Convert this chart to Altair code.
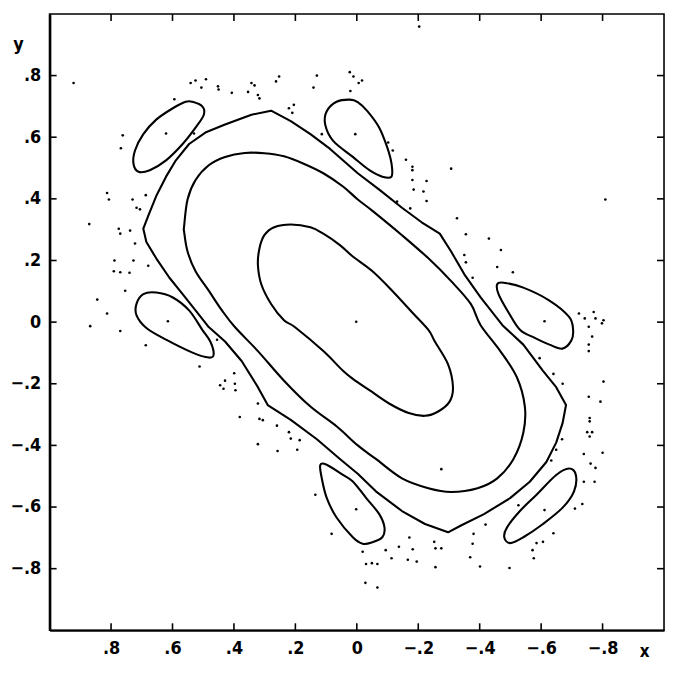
import altair as alt
import pandas as pd

# ---- closed orbits ----
C1_X = [0.322, 0.317, 0.301, 0.269, 0.215, 0.151, 0.109, 0.055, 0.013, -0.051, -0.115, -0.179, -0.233, -0.254,
        -0.297, -0.313, -0.302, -0.265, -0.222, -0.169, -0.105, -0.041, 0.013, 0.045, 0.109, 0.202, 0.237, 0.279, 0.311]
C1_Y = [0.186, 0.239, 0.282, 0.308, 0.317, 0.308, 0.287, 0.250, 0.213, 0.165, 0.102, 0.033, -0.025, -0.063,
        -0.137, -0.211, -0.258, -0.290, -0.304, -0.295, -0.264, -0.221, -0.184, -0.158, -0.094, -0.016, 0.006, 0.059, 0.123]

C2_X = [0.562, 0.551, 0.525, 0.482, 0.429, 0.365, 0.301, 0.237, 0.173, 0.109, 0.045, -0.003, -0.051, -0.147,
        -0.233, -0.307, -0.371, -0.403, -0.467, -0.521, -0.547, -0.542, -0.510, -0.457, -0.393, -0.307, -0.233,
        -0.147, -0.062, -0.003, 0.066, 0.151, 0.237, 0.322, 0.397, 0.439, 0.482, 0.525, 0.551, 0.562]
C2_Y = [0.313, 0.398, 0.461, 0.509, 0.536, 0.549, 0.548, 0.538, 0.514, 0.483, 0.440, 0.398, 0.361, 0.282,
        0.207, 0.133, 0.059, -0.010, -0.094, -0.179, -0.274, -0.359, -0.444, -0.507, -0.539, -0.551, -0.539,
        -0.507, -0.444, -0.400, -0.338, -0.274, -0.190, -0.094, -0.016, 0.038, 0.102, 0.165, 0.229, 0.292]

C3_X = [0.695, 0.679, 0.653, 0.621, 0.589, 0.546, 0.493, 0.429, 0.343, 0.279, 0.215, 0.151, 0.087, -0.003,
        -0.073, -0.147, -0.211, -0.270, -0.307, -0.350, -0.403, -0.474, -0.542, -0.606, -0.649, -0.681, -0.670,
        -0.649, -0.617, -0.563, -0.499, -0.414, -0.339, -0.297, -0.222, -0.147, -0.062, -0.003, 0.055, 0.130,
        0.215, 0.290, 0.322, 0.375, 0.429, 0.482, 0.525, 0.567, 0.610, 0.653, 0.685]
C3_Y = [0.303, 0.345, 0.409, 0.472, 0.525, 0.578, 0.615, 0.641, 0.673, 0.686, 0.652, 0.610, 0.562, 0.483,
        0.430, 0.371, 0.324, 0.287, 0.229, 0.155, 0.080, -0.010, -0.073, -0.158, -0.211, -0.269, -0.327,
        -0.391, -0.454, -0.518, -0.571, -0.623, -0.660, -0.682, -0.655, -0.613, -0.549, -0.492, -0.444, -0.380,
        -0.317, -0.269, -0.211, -0.126, -0.063, -0.016, 0.038, 0.091, 0.144, 0.207, 0.260]

# ---- six islands ----
I1_X = [0.535, 0.503, 0.498, 0.525, 0.567, 0.621, 0.674, 0.711, 0.727, 0.722, 0.695, 0.653, 0.599, 0.557]
I1_Y = [0.715, 0.700, 0.673, 0.631, 0.578, 0.525, 0.493, 0.488, 0.514, 0.557, 0.610, 0.657, 0.694, 0.715]
I2_X = [0.103, 0.098, 0.066, 0.023, -0.003, -0.035, -0.073, -0.099, -0.113, -0.113, -0.083, -0.041, 0.013, 0.077]
I2_Y = [0.641, 0.684, 0.715, 0.722, 0.714, 0.684, 0.631, 0.567, 0.514, 0.472, 0.472, 0.493, 0.536, 0.588]
I3_X = [0.717, 0.717, 0.695, 0.653, 0.599, 0.546, 0.503, 0.477, 0.466, 0.482, 0.535, 0.621, 0.685]
I3_Y = [0.022, 0.060, 0.091, 0.096, 0.080, 0.038, -0.025, -0.063, -0.105, -0.115, -0.099, -0.057, -0.019]
I4_X = [-0.457, -0.478, -0.542, -0.627, -0.691, -0.704, -0.698, -0.669, -0.627, -0.579, -0.531, -0.490, -0.461]
I4_Y = [0.123, 0.128, 0.112, 0.070, 0.017, -0.025, -0.060, -0.086, -0.073, -0.051, -0.025, 0.038, 0.092]
I5_X = [-0.691, -0.713, -0.707, -0.670, -0.606, -0.542, -0.499, -0.480, -0.489, -0.531, -0.585, -0.649]
I5_Y = [-0.475, -0.496, -0.549, -0.602, -0.655, -0.698, -0.717, -0.698, -0.666, -0.613, -0.560, -0.496]
I6_X = [0.119, 0.098, 0.045, 0.013, -0.030, -0.073, -0.090, -0.083, -0.051, -0.019, 0.013, 0.066, 0.098, 0.114]
I6_Y = [-0.464, -0.463, -0.496, -0.517, -0.570, -0.623, -0.666, -0.698, -0.714, -0.719, -0.698, -0.634, -0.570, -0.507]

# ---- scattered (chaotic) points ----
DOT_X = [0.922, 0.541, 0.525, 0.506, 0.491, 0.452, 0.450, 0.407, 0.343, 0.333, 0.354, 0.322, 0.317, 0.263, 0.253,
         0.141, 0.130, 0.221, 0.210, 0.205, 0.594, 0.621, 0.530, 0.114, 0.762, 0.768, 0.813, 0.807, 0.730, 0.717,
         0.706, 0.687, 0.871, 0.775, 0.770, 0.738, 0.722, 0.727, 0.789, 0.791, 0.770, 0.740, 0.679, 0.754, 0.845,
         0.813, 0.868, 0.770, 0.615, -0.203, 0.023, 0.011, -0.006, -0.017, 0.021, 0.005, -0.102, -0.117, -0.160,
         -0.181, -0.181, -0.181, -0.227, -0.307, -0.185, -0.217, -0.227, -0.131, -0.174, -0.326, -0.355, -0.430,
         -0.469, -0.350, -0.355, -0.457, -0.508, -0.377, -0.809, -0.723, -0.742, -0.771, -0.777, -0.798, -0.803,
         -0.755, -0.611, 0.002, 0.687, 0.512, 0.455, 0.429, 0.399, 0.397, 0.395, 0.445, 0.434, 0.381, 0.322,
         0.317, 0.306, 0.260, 0.221, 0.215, 0.186, 0.322, 0.258, 0.194, 0.135, 0.082, -0.766, -0.755, -0.755,
         -0.803, -0.755, -0.793, -0.758, -0.758, -0.750, -0.766, -0.758, -0.739, -0.800, -0.761, -0.777, -0.739,
         -0.774, -0.734, -0.710, -0.668, -0.649, -0.633, -0.640, -0.670, -0.595, -0.611, -0.526, -0.640, -0.606,
         -0.585, -0.572, -0.576, -0.497, -0.419, -0.380, -0.377, -0.369, -0.401, -0.275, 0.002, -0.256, -0.275,
         -0.252, -0.171, -0.182, -0.137, -0.094, -0.113, -0.166, -0.195, -0.256, -0.019, -0.030, -0.049, -0.067,
         -0.028, -0.067]
DOT_Y = [0.776, 0.776, 0.784, 0.761, 0.788, 0.765, 0.755, 0.744, 0.776, 0.768, 0.747, 0.737, 0.726, 0.781, 0.797,
         0.761, 0.800, 0.694, 0.679, 0.705, 0.723, 0.612, 0.612, 0.610, 0.606, 0.564, 0.419, 0.398, 0.398, 0.371,
         0.366, 0.412, 0.318, 0.303, 0.287, 0.297, 0.255, 0.200, 0.200, 0.165, 0.162, 0.160, 0.183, 0.102, 0.073,
         0.028, -0.013, -0.029, 0.003, 0.959, 0.811, 0.797, 0.776, 0.784, 0.750, 0.610, 0.583, 0.557, 0.527,
         0.504, 0.493, 0.461, 0.458, 0.498, 0.430, 0.424, 0.393, 0.391, 0.369, 0.337, 0.285, 0.271,
         0.234, 0.218, 0.194, 0.179, 0.162, 0.144, 0.398, 0.028, 0.012, 0.033, 0.012, -0.004, 0.006,
         -0.015, 0.003, 0.001, -0.075, -0.144, -0.057, -0.190, -0.166, -0.200, -0.221, -0.205, -0.216, -0.308, -0.264,
         -0.314, -0.318, -0.336, -0.357, -0.378, -0.383, -0.396, -0.418, -0.414, -0.560, -0.687, -0.047, -0.073, -0.094,
         -0.193, -0.242, -0.258, -0.311, -0.322, -0.357, -0.357, -0.371, -0.428, -0.424, -0.459, -0.473, -0.518,
         -0.518, -0.590, -0.605, -0.380, -0.414, -0.449, -0.168, -0.200, -0.117, -0.610, -0.594, -0.685, -0.713,
         -0.717, -0.740, -0.766, -0.798, -0.657, -0.687, -0.719, -0.763, -0.793, -0.477, -0.607, -0.734, -0.734,
         -0.713, -0.699, -0.737, -0.729, -0.740, -0.766, -0.771, -0.777, -0.795, -0.745, -0.785, -0.782, -0.785,
         -0.846, -0.861]

TICKS = [-0.8, -0.6, -0.4, -0.2, 0.0, 0.2, 0.4, 0.6, 0.8]


def curve_df(name, xs, ys):
    return pd.DataFrame({"x": xs, "y": ys, "curve": name, "i": list(range(len(xs)))})


smooth_df = pd.concat([
    curve_df("c1", C1_X, C1_Y), curve_df("c2", C2_X, C2_Y),
    curve_df("i1", I1_X, I1_Y), curve_df("i2", I2_X, I2_Y), curve_df("i3", I3_X, I3_Y),
    curve_df("i4", I4_X, I4_Y), curve_df("i5", I5_X, I5_Y), curve_df("i6", I6_X, I6_Y),
], ignore_index=True)
outer_df = curve_df("c3", C3_X, C3_Y)
dots_df = pd.DataFrame({"x": DOT_X, "y": DOT_Y})

# inward tick marks: centred half a tick length inside each edge of the frame
H = 0.0115
n = len(TICKS)
vt_df = pd.DataFrame({"x": TICKS + TICKS, "y": [-1 + H] * n + [1 - H] * n})
ht_df = pd.DataFrame({"y": TICKS + TICKS, "x": [1 - H] * n + [-1 + H] * n})

FONT = "DejaVu Sans Condensed, Liberation Sans Narrow, DejaVu Sans"
LABEL = "datum.value == 0 ? '0' : replace(format(datum.value, '.1f'), '0.', '.')"

xscale = alt.Scale(domain=[-1, 1], reverse=True, nice=False, zero=False)
yscale = alt.Scale(domain=[-1, 1], nice=False, zero=False)

xenc = alt.X("x:Q", scale=xscale, axis=alt.Axis(
    values=TICKS, tickSize=0, labelExpr=LABEL, labelFont=FONT, labelFontSize=18,
    labelFontWeight="bold", labelColor="black", labelPadding=9, grid=False,
    domainColor="black", domainWidth=2, title="x", titleFont=FONT, titleFontSize=17,
    titleFontWeight="bold", titleColor="black", titleX=600, titleY=21,
    titleAlign="center", titleBaseline="middle"))
yenc = alt.Y("y:Q", scale=yscale, axis=alt.Axis(
    values=TICKS, tickSize=0, labelExpr=LABEL, labelFont=FONT, labelFontSize=18,
    labelFontWeight="bold", labelColor="black", labelPadding=9, grid=False,
    domainColor="black", domainWidth=2.5, title="y", titleAngle=0, titleFont=FONT,
    titleFontSize=18, titleFontWeight="bold", titleColor="black", titleX=-32, titleY=31,
    titleAlign="center", titleBaseline="middle"))

smooth = alt.Chart(smooth_df).mark_line(
    interpolate="cardinal-closed", color="black", strokeWidth=2.1
).encode(x=xenc, y=yenc, detail="curve:N", order="i:Q")

outer = alt.Chart(outer_df).mark_line(
    interpolate="linear-closed", color="black", strokeWidth=2.1, strokeJoin="round"
).encode(x="x:Q", y="y:Q", order="i:Q")

dots = alt.Chart(dots_df).mark_circle(size=7, color="black", opacity=1).encode(x="x:Q", y="y:Q")

vticks = alt.Chart(vt_df).mark_tick(
    orient="vertical", size=7, thickness=1.6, color="black", opacity=1
).encode(x="x:Q", y="y:Q")
hticks = alt.Chart(ht_df).mark_tick(
    orient="horizontal", size=7, thickness=1.6, color="black", opacity=1
).encode(x="x:Q", y="y:Q")

chart = alt.layer(smooth, outer, dots, vticks, hticks).properties(
    width=620, height=622,
    autosize=alt.AutoSizeParams(type="none"),
    padding={"left": 42, "top": 3, "right": 2, "bottom": 30},
    background="white",
).configure_view(stroke="black", strokeWidth=1.6)

chart.save("out.html", embed_options={"renderer": "svg", "actions": False})
